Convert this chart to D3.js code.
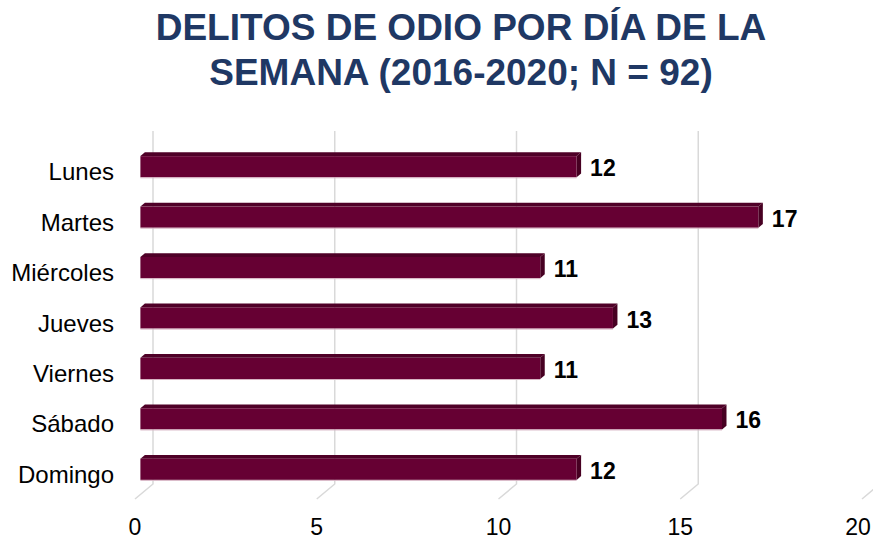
<!DOCTYPE html>
<html>
<head>
<meta charset="utf-8">
<script src="https://cdn.jsdelivr.net/npm/d3@7"></script>
<style>
    body { margin: 0; background: #fff; }
    text { font-family: "Liberation Sans", Arial, sans-serif; }
</style>
</head>
<body>
<div id="chart"></div>
<script>
//Datos
const days = ["Lunes", "Martes", "Miércoles", "Jueves", "Viernes", "Sábado", "Domingo"];
const counts = [12, 17, 11, 13, 11, 16, 12];
const ticks = [0, 5, 10, 15, 20];
const titleLines = ["DELITOS DE ODIO POR DÍA DE LA", "SEMANA (2016-2020; N = 92)"];

const width = 873;
const height = 539;

const svg = d3.select("#chart").append("svg")
    .attr("width", width)
    .attr("height", height);

//Escalas del plano frontal (suelo)
const x = d3.scaleLinear().domain([0, 20]).range([135, 862]);
const y = d3.scaleBand().domain(days).range([146, 499])
    .paddingInner(0.58).paddingOuter(0.29);

//Profundidad 3D: pared trasera y posicion de la barra
const depth = { dx: 18, dy: -15 };
const barOff = { dx: 5.4, dy: -4.5 };
const barDepth = { dx: 4.5, dy: -3.8 };

//Titulo
svg.selectAll(".title")
    .data(titleLines)
    .enter()
    .append("text")
    .attr("class", "title")
    .attr("x", 461)
    .attr("y", (d, i) => 40 + i * 45)
    .attr("text-anchor", "middle")
    .attr("font-size", 37)
    .attr("font-weight", "bold")
    .attr("fill", "#1f3864")
    .text(d => d);

//Lineas de la cuadricula (pared trasera + suelo)
svg.selectAll(".grid")
    .data(ticks)
    .enter()
    .append("path")
    .attr("class", "grid")
    .attr("fill", "none")
    .attr("stroke", "#d9d9d9")
    .attr("stroke-width", 1.5)
    .attr("d", d => {
        const x0 = x(d), top = y.range()[0], bottom = y.range()[1];
        return `M${x0 + depth.dx},${top + depth.dy}L${x0 + depth.dx},${bottom + depth.dy}L${x0},${bottom}`;
    });

//Barras
const bars = svg.selectAll(".bar")
    .data(days.map((d, i) => ({ day: d, value: counts[i] })))
    .enter()
    .append("g")
    .attr("class", "bar")
    .attr("transform", `translate(${barOff.dx},${barOff.dy})`);

const bw = y.bandwidth();

//Cara superior
bars.append("path")
    .attr("fill", "#4f0027")
    .attr("d", d => {
        const x0 = x(0), x1 = x(d.value), t = y(d.day);
        return `M${x0},${t}L${x0 + barDepth.dx},${t + barDepth.dy}L${x1 + barDepth.dx},${t + barDepth.dy}L${x1},${t}Z`;
    });

//Cara lateral
bars.append("path")
    .attr("fill", "#470022")
    .attr("d", d => {
        const x1 = x(d.value), t = y(d.day);
        return `M${x1},${t}L${x1 + barDepth.dx},${t + barDepth.dy}L${x1 + barDepth.dx},${t + bw + barDepth.dy}L${x1},${t + bw}Z`;
    });

//Cara frontal
bars.append("rect")
    .attr("fill", "#660033")
    .attr("x", x(0))
    .attr("y", d => y(d.day))
    .attr("width", d => x(d.value) - x(0))
    .attr("height", bw);

//Borde inferior claro
bars.append("line")
    .attr("stroke", "#d7b3c3")
    .attr("stroke-width", 1)
    .attr("x1", x(0))
    .attr("x2", d => x(d.value))
    .attr("y1", d => y(d.day) + bw + 0.5)
    .attr("y2", d => y(d.day) + bw + 0.5);

//Etiquetas de valor
bars.append("text")
    .attr("x", d => x(d.value) + 13.5)
    .attr("y", d => y(d.day) + bw / 2 + 9.5)
    .attr("font-size", 23)
    .attr("font-weight", "bold")
    .attr("fill", "#000")
    .text(d => d.value);

//Etiquetas de categoria
svg.selectAll(".cat")
    .data(days)
    .enter()
    .append("text")
    .attr("class", "cat")
    .attr("x", 114)
    .attr("y", d => y(d) + bw / 2 + 9)
    .attr("text-anchor", "end")
    .attr("font-size", 24)
    .attr("fill", "#000")
    .text(d => d);

//Etiquetas del eje X (la ultima se mantiene dentro del borde)
svg.selectAll(".tick")
    .data(ticks)
    .enter()
    .append("text")
    .attr("class", "tick")
    .attr("x", d => Math.min(x(d), width - 15))
    .attr("y", 535)
    .attr("text-anchor", "middle")
    .attr("font-size", 23)
    .attr("fill", "#000")
    .text(d => d);
</script>
</body>
</html>
